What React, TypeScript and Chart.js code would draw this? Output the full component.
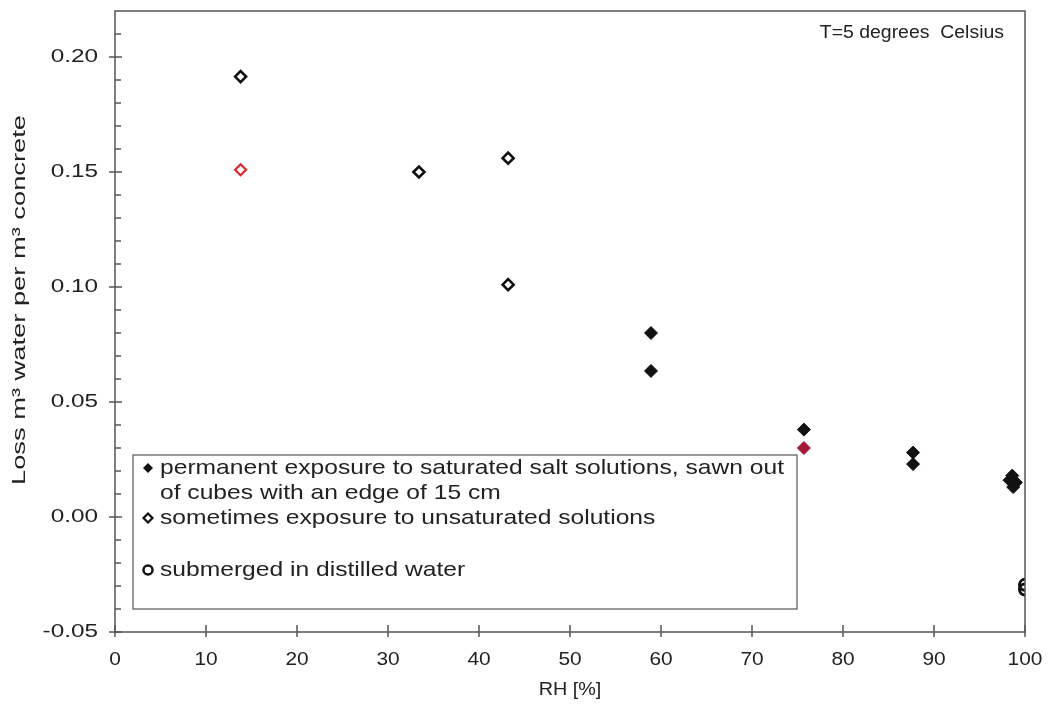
import React, { useEffect, useRef } from "react";
import { Chart, registerables } from "chart.js";

Chart.register(...registerables);

// ---- data ----
const permanentX = [58.9, 58.9, 75.7, 87.7, 87.7, 98.6, 98.3, 99.0, 98.7];
const permanentY = [0.080, 0.0635, 0.038, 0.028, 0.023, 0.018, 0.016, 0.015, 0.013];
const permanentRedX = [75.7];
const permanentRedY = [0.030];
const sometimesX = [13.8, 33.4, 43.2, 43.2];
const sometimesY = [0.1915, 0.150, 0.156, 0.101];
const sometimesRedX = [13.8];
const sometimesRedY = [0.151];
const submergedX = [100, 100];
const submergedY = [-0.0295, -0.0315];

const xTicks = [0, 10, 20, 30, 40, 50, 60, 70, 80, 90, 100];
const yTicks = [-0.05, 0.0, 0.05, 0.1, 0.15, 0.2];
const yMinorTicks = [-0.04, -0.03, -0.02, -0.01, 0.01, 0.02, 0.03, 0.04, 0.06, 0.07, 0.08, 0.09, 0.11, 0.12, 0.13, 0.14, 0.16, 0.17, 0.18, 0.19, 0.21];

const legendLines = [
  "permanent exposure to saturated salt solutions, sawn out",
  "of cubes with an edge of 15 cm",
  "sometimes exposure to unsaturated solutions",
  "submerged in distilled water",
];
const annotationText = "T=5 degrees  Celsius";
const xTitle = "RH [%]";
const yTitle = "Loss m\u00B3 water per m\u00B3 concrete";

const pts = (xs: number[], ys: number[]) => xs.map((x, i) => ({ x, y: ys[i] }));

const FONT = "'Liberation Sans', Arial, sans-serif";
const TEXT = "#222";

function sText(ctx: any, text: string, x: number, y: number, sx: number, align: string) {
  ctx.save();
  ctx.translate(x, y);
  ctx.scale(sx, 1);
  ctx.textAlign = align;
  ctx.fillText(text, 0, 0);
  ctx.restore();
}

const framePlugin = {
  id: "framePlugin",
  afterDatasetsDraw(chart: any) {
    const { ctx, chartArea, scales } = chart;
    const xs = scales.x;
    const ys = scales.y;
    ctx.save();
    ctx.strokeStyle = "#555";
    ctx.lineWidth = 1.5;
    ctx.strokeRect(chartArea.left, chartArea.top, chartArea.right - chartArea.left, chartArea.bottom - chartArea.top);
    ctx.beginPath();
    for (const v of xTicks) {
      const px = xs.getPixelForValue(v);
      ctx.moveTo(px, chartArea.bottom - 7);
      ctx.lineTo(px, chartArea.bottom + 5);
    }
    for (const v of yTicks) {
      const py = ys.getPixelForValue(v);
      ctx.moveTo(chartArea.left - 6, py);
      ctx.lineTo(chartArea.left + 7, py);
    }
    for (const v of yMinorTicks) {
      const py = ys.getPixelForValue(v);
      ctx.moveTo(chartArea.left, py);
      ctx.lineTo(chartArea.left + 6, py);
    }
    ctx.stroke();

    ctx.fillStyle = TEXT;
    ctx.textBaseline = "middle";

    // tick labels
    ctx.font = `19px ${FONT}`;
    for (const v of yTicks) {
      sText(ctx, v.toFixed(2), chartArea.left - 17, ys.getPixelForValue(v), 1.28, "right");
    }
    for (const v of xTicks) {
      sText(ctx, String(v), xs.getPixelForValue(v), chartArea.bottom + 28, 1.1, "center");
    }
    // axis titles
    ctx.font = `18px ${FONT}`;
    sText(ctx, xTitle, (chartArea.left + chartArea.right) / 2, chartArea.bottom + 58, 1.1, "center");
    ctx.save();
    ctx.translate(20, 300);
    ctx.rotate(-Math.PI / 2);
    ctx.font = `19px ${FONT}`;
    const tw = ctx.measureText(yTitle).width;
    sText(ctx, yTitle, 0, 0, 370 / tw, "center");
    ctx.restore();

    // annotation
    ctx.font = `18px ${FONT}`;
    sText(ctx, annotationText, chartArea.right - 21, chartArea.top + 22, 1.08, "right");

    // legend box
    const bx = 133, by = 455, bw = 664, bh = 154;
    ctx.fillStyle = "#fff";
    ctx.fillRect(bx, by, bw, bh);
    ctx.strokeStyle = "#555";
    ctx.lineWidth = 1.2;
    ctx.strokeRect(bx, by, bw, bh);
    ctx.fillStyle = TEXT;
    ctx.font = `21px ${FONT}`;
    const lw = ctx.measureText(legendLines[0]).width;
    const lsx = 624 / lw;
    const tx = 160;
    const lineY = [468, 493, 518, 570];
    legendLines.forEach((t, i) => sText(ctx, t, tx, lineY[i], lsx, "left"));
    // markers
    const mx = 148;
    ctx.beginPath();
    ctx.moveTo(mx, lineY[0] - 5);
    ctx.lineTo(mx + 5, lineY[0]);
    ctx.lineTo(mx, lineY[0] + 5);
    ctx.lineTo(mx - 5, lineY[0]);
    ctx.closePath();
    ctx.fillStyle = "#111";
    ctx.fill();
    ctx.beginPath();
    ctx.moveTo(mx, lineY[2] - 4.5);
    ctx.lineTo(mx + 4.5, lineY[2]);
    ctx.lineTo(mx, lineY[2] + 4.5);
    ctx.lineTo(mx - 4.5, lineY[2]);
    ctx.closePath();
    ctx.strokeStyle = "#111";
    ctx.lineWidth = 2.2;
    ctx.stroke();
    ctx.beginPath();
    ctx.arc(mx, lineY[3], 4.5, 0, Math.PI * 2);
    ctx.lineWidth = 2.5;
    ctx.stroke();
    ctx.restore();
  },
};

export default function App() {
  const ref = useRef<HTMLCanvasElement | null>(null);
  useEffect(() => {
    if (!ref.current) return;
    const chart = new Chart(ref.current, {
      type: "scatter",
      data: {
        datasets: [
          {
            label: "permanent",
            data: pts(permanentX, permanentY),
            pointStyle: "rectRot",
            pointRadius: 6.5,
            backgroundColor: "#111",
            borderColor: "#111",
            borderWidth: 1,
          },
          {
            label: "permanent red",
            data: pts(permanentRedX, permanentRedY),
            pointStyle: "rectRot",
            pointRadius: 6.5,
            backgroundColor: "#a31a35",
            borderColor: "#a31a35",
            borderWidth: 1,
          },
          {
            label: "sometimes",
            data: pts(sometimesX, sometimesY),
            pointStyle: "rectRot",
            pointRadius: 5.5,
            backgroundColor: "#fff",
            borderColor: "#111",
            borderWidth: 2.6,
          },
          {
            label: "sometimes red",
            data: pts(sometimesRedX, sometimesRedY),
            pointStyle: "rectRot",
            pointRadius: 5.5,
            backgroundColor: "#fff",
            borderColor: "#e0262b",
            borderWidth: 2.2,
          },
          {
            label: "submerged",
            data: pts(submergedX, submergedY),
            pointStyle: "circle",
            pointRadius: 5.5,
            backgroundColor: "rgba(255,255,255,0)",
            borderColor: "#111",
            borderWidth: 3,
          },
        ],
      },
      options: {
        animation: false,
        responsive: false,
        maintainAspectRatio: false,
        layout: { padding: { top: 11, right: 24, bottom: 0, left: 0 } },
        plugins: { legend: { display: false }, tooltip: { enabled: false } },
        scales: {
          x: {
            type: "linear",
            min: 0,
            max: 100,
            grid: { display: false, drawTicks: false },
            border: { display: false },
            afterBuildTicks: (s: any) => {
              s.ticks = xTicks.map((v) => ({ value: v }));
            },
            afterFit: (s: any) => {
              s.height = 74;
              s.paddingLeft = 0;
              s.paddingRight = 0;
              s.paddingTop = 0;
              s.paddingBottom = 0;
            },
            ticks: { display: false },
            title: { display: false, text: xTitle },
          },
          y: {
            type: "linear",
            min: -0.05,
            max: 0.22,
            grid: { display: false, drawTicks: false },
            border: { display: false },
            afterBuildTicks: (s: any) => {
              s.ticks = yTicks.map((v) => ({ value: v }));
            },
            afterFit: (s: any) => {
              s.width = 115;
              s.paddingLeft = 0;
              s.paddingRight = 0;
              s.paddingTop = 0;
              s.paddingBottom = 0;
            },
            ticks: { display: false },
            title: { display: false, text: yTitle },
          },
        },
      },
      plugins: [framePlugin],
    });
    return () => chart.destroy();
  }, []);
  return (
    <div style={{ position: "absolute", left: 0, top: 0, width: 1049, height: 706, background: "#fff" }}>
      <canvas ref={ref} width={1049} height={706} style={{ width: 1049, height: 706 }} />
    </div>
  );
}
